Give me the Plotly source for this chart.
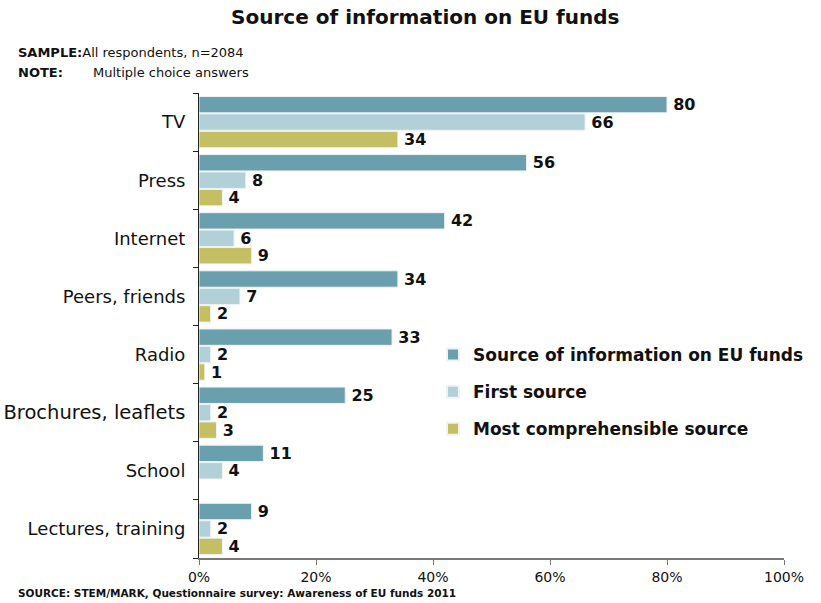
import plotly.graph_objects as go

categories = ["TV", "Press", "Internet", "Peers, friends", "Radio",
              "Brochures, leaflets", "School", "Lectures, training"]
info_source = [80, 56, 42, 34, 33, 25, 11, 9]
first_source = [66, 8, 6, 7, 2, 2, 4, 2]
most_comprehensible = [34, 4, 9, 2, 1, 3, None, 4]

series_names = ["Source of information on EU funds", "First source",
                "Most comprehensible source"]
colors = ["#6a9fae", "#b1d0d8", "#c3bf62"]
x_ticks = [0, 20, 40, 60, 80, 100]
x_tick_text = [f"{v}%" for v in x_ticks]

tick_text = [
    "<span style='font-size:19.5px'>" + c + "</span>" if c == "Brochures, leaflets" else c
    for c in categories
]

fig = go.Figure()
for i, (name, vals, col) in enumerate(zip(series_names,
                                          [info_source, first_source, most_comprehensible],
                                          colors)):
    fig.add_trace(go.Bar(
        y=categories, x=vals, name=name, orientation="h",
        legendgroup=f"g{i}",
        marker=dict(color=col, line=dict(color="#eef4f5", width=1)),
        text=[("" if v is None else "\u2009" + str(v)) for v in vals],
        textposition="outside", constraintext="none",
        textfont=dict(family="DejaVu Sans", size=16, color="#111111", weight="bold"),
        cliponaxis=False,
    ))

fig.update_layout(
    width=821, height=603,
    margin=dict(l=199, r=37, t=93, b=45, autoexpand=False),
    paper_bgcolor="white", plot_bgcolor="white",
    barmode="group", bargap=0.1, bargroupgap=0.06,
    font=dict(family="DejaVu Sans", size=15, color="#111111"),
    title=dict(text="<b>Source of information on EU funds</b>",
               x=0.518, xanchor="center", y=0.972, yanchor="middle",
               font=dict(size=20, color="#111111")),
    legend=dict(x=(433 - 199) / 585, y=1 - (337 - 93) / 465, xanchor="left", yanchor="top",
                font=dict(size=17, color="#111111", weight="bold"),
                itemsizing="constant", tracegroupgap=12,
                bgcolor="rgba(0,0,0,0)", itemwidth=30),
    showlegend=True,
)

fig.update_xaxes(
    range=[0, 100], tickvals=x_ticks, ticktext=x_tick_text,
    showgrid=False, zeroline=False, automargin=False,
    showline=True, linecolor="#777777", linewidth=1.5,
    ticks="outside", ticklen=5, tickcolor="#777777",
    tickfont=dict(size=14, color="#111111"),
)
fig.update_yaxes(
    categoryorder="array", categoryarray=categories,
    tickvals=categories, ticktext=tick_text,
    autorange="reversed", automargin=False,
    showgrid=False, zeroline=False,
    showline=True, linecolor="#222222", linewidth=1,
    ticks="outside", ticklen=5, tickcolor="#222222", tickson="boundaries",
    tickfont=dict(size=18, color="#111111"), ticklabelstandoff=9,
)

left = -199 / 585 + 16 / 585
fig.add_annotation(xref="paper", yref="paper", x=left, y=1 + (93 - 52) / 465,
                   xanchor="left", yanchor="middle", showarrow=False,
                   text="<b>SAMPLE:</b>All respondents, n=2084",
                   font=dict(size=13, color="#111111"))
fig.add_annotation(xref="paper", yref="paper", x=left, y=1 + (93 - 72) / 465,
                   xanchor="left", yanchor="middle", showarrow=False,
                   text="<b>NOTE:</b>",
                   font=dict(size=13, color="#111111"))
fig.add_annotation(xref="paper", yref="paper", x=-199 / 585 + 91 / 585, y=1 + (93 - 72) / 465,
                   xanchor="left", yanchor="middle", showarrow=False,
                   text="Multiple choice answers",
                   font=dict(size=13, color="#111111"))
fig.add_annotation(xref="paper", yref="paper", x=left, y=-(593 - 558) / 465,
                   xanchor="left", yanchor="middle", showarrow=False,
                   text="<b>SOURCE: STEM/MARK, Questionnaire survey: Awareness of EU funds 2011</b>",
                   font=dict(size=10.5, color="#111111"))

fig.write_html("out.html")
